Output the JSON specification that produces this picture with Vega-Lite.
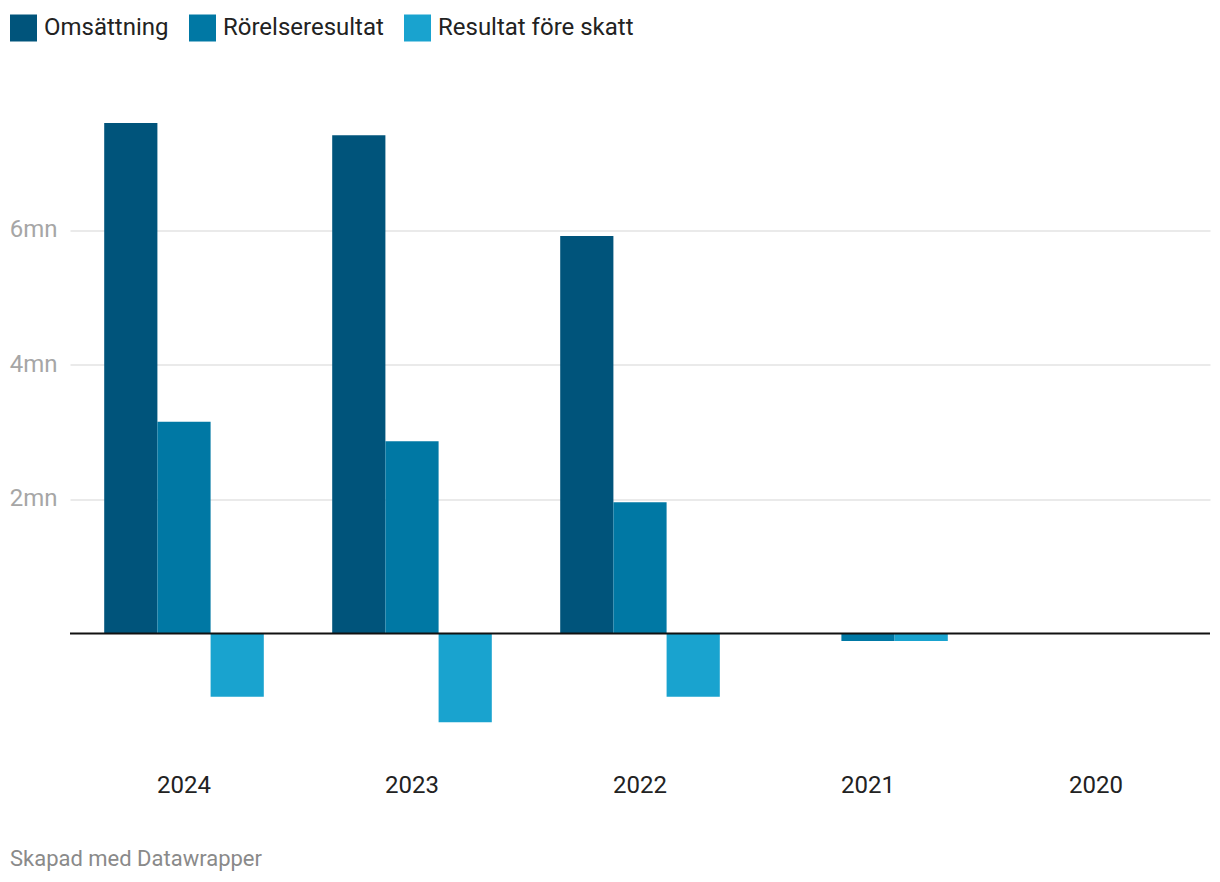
{
  "$schema": "https://vega.github.io/schema/vega-lite/v6.json",
  "autosize": {"type": "none"},
  "width": 1140,
  "height": 645.6,
  "padding": {"left": 70, "top": 95.5, "right": 10, "bottom": 141},
  "background": "white",
  "config": {
    "font": "Roboto",
    "view": {"stroke": null}
  },
  "title": {
    "text": "Skapad med Datawrapper",
    "orient": "bottom",
    "anchor": "start",
    "frame": "group",
    "dx": -60,
    "offset": 52,
    "fontSize": 22,
    "fontWeight": "normal",
    "color": "#8a8a8a",
    "font": "Roboto"
  },
  "data": {
    "values": [
      {"year": "2024", "metric": "Omsättning", "value": 7590000},
      {"year": "2024", "metric": "Rörelseresultat", "value": 3150000},
      {"year": "2024", "metric": "Resultat före skatt", "value": -940000},
      {"year": "2023", "metric": "Omsättning", "value": 7410000},
      {"year": "2023", "metric": "Rörelseresultat", "value": 2860000},
      {"year": "2023", "metric": "Resultat före skatt", "value": -1320000},
      {"year": "2022", "metric": "Omsättning", "value": 5910000},
      {"year": "2022", "metric": "Rörelseresultat", "value": 1950000},
      {"year": "2022", "metric": "Resultat före skatt", "value": -940000},
      {"year": "2021", "metric": "Omsättning", "value": 0},
      {"year": "2021", "metric": "Rörelseresultat", "value": -110000},
      {"year": "2021", "metric": "Resultat före skatt", "value": -110000},
      {"year": "2020", "metric": "Omsättning", "value": 0},
      {"year": "2020", "metric": "Rörelseresultat", "value": 0},
      {"year": "2020", "metric": "Resultat före skatt", "value": 0}
    ]
  },
  "layer": [
    {
      "mark": {"type": "bar"},
      "encoding": {
        "x": {
          "field": "year",
          "type": "nominal",
          "sort": ["2024", "2023", "2022", "2021", "2020"],
          "scale": {"paddingInner": 0.3, "paddingOuter": 0.15},
          "axis": {
            "title": null,
            "domain": false,
            "ticks": false,
            "labelAngle": 0,
            "labelFontSize": 24,
            "labelColor": "#222222",
            "labelPadding": 32,
            "labelFont": "Roboto"
          }
        },
        "xOffset": {
          "field": "metric",
          "type": "nominal",
          "sort": ["Omsättning", "Rörelseresultat", "Resultat före skatt"],
          "scale": {"paddingInner": 0, "paddingOuter": 0}
        },
        "y": {
          "field": "value",
          "type": "quantitative",
          "scale": {"domain": [-1600000, 8000000], "nice": false, "zero": false},
          "axis": {
            "title": null,
            "domain": false,
            "ticks": false,
            "values": [2000000, 4000000, 6000000],
            "labelExpr": "datum.value / 1000000 + 'mn'",
            "labelFontSize": 24,
            "labelColor": "#a6a6a6",
            "labelPadding": 13,
            "labelFont": "Roboto",
            "gridColor": "#e3e3e3",
            "gridWidth": 1.5
          }
        },
        "color": {
          "field": "metric",
          "type": "nominal",
          "sort": ["Omsättning", "Rörelseresultat", "Resultat före skatt"],
          "scale": {
            "domain": ["Omsättning", "Rörelseresultat", "Resultat före skatt"],
            "range": ["#00547b", "#0078a4", "#19a3cf"]
          },
          "legend": {
            "title": null,
            "orient": "none",
            "direction": "horizontal",
            "legendX": -60,
            "legendY": -81,
            "symbolType": "square",
            "symbolSize": 729,
            "symbolStrokeWidth": 0,
            "symbolOpacity": 1,
            "labelFontSize": 24,
            "labelColor": "#222222",
            "labelFont": "Roboto",
            "labelOffset": 7,
            "columnPadding": 20,
            "labelLimit": 400
          }
        }
      }
    },
    {
      "mark": {"type": "rule", "color": "#111111", "strokeWidth": 2},
      "data": {"values": [{"zero": 0}]},
      "encoding": {
        "y": {"field": "zero", "type": "quantitative"}
      }
    }
  ]
}
